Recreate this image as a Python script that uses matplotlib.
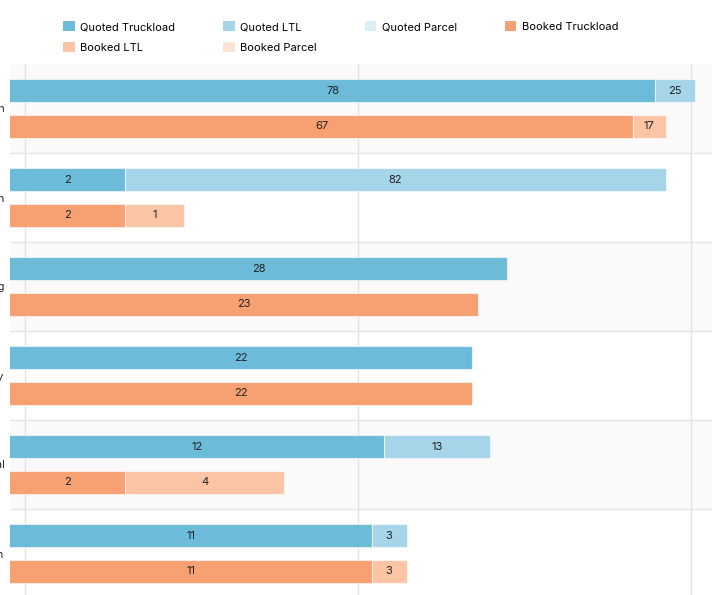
import matplotlib
matplotlib.use("Agg")
import matplotlib.pyplot as plt
from matplotlib.patches import Patch
import numpy as np

plt.rcParams['font.family'] = ['Inter', 'DejaVu Sans']

categories = ["Boston", "Houston", "Beijing", "Albany", "Montreal", "Vernon"]
quoted_truckload = [78, 2, 28, 22, 12, 11]
quoted_ltl = [25, 82, 0, 0, 13, 3]
quoted_parcel = [0, 0, 0, 0, 0, 0]
booked_truckload = [67, 2, 23, 22, 2, 11]
booked_ltl = [17, 1, 0, 0, 4, 3]
booked_parcel = [0, 0, 0, 0, 0, 0]

colors = {
    "Quoted Truckload": "#6bbbd9",
    "Quoted LTL": "#a6d5e9",
    "Quoted Parcel": "#dceef6",
    "Booked Truckload": "#f7a072",
    "Booked LTL": "#fbc4a5",
    "Booked Parcel": "#fde3d4",
}

W, H = 728, 595
fig = plt.figure(figsize=(W / 100, H / 100), dpi=100)
ax_left, ax_right, ax_top, ax_bot = 10, 712, 64, 598
ax = fig.add_axes([ax_left / W, (H - ax_bot) / H, (ax_right - ax_left) / W, (ax_bot - ax_top) / H])

xmin, xmax = 0.9016, 115.7
ax.set_xscale('log')
ax.set_xlim(xmin, xmax)
n = len(categories)
ax.set_ylim(n - 0.5, -0.5)

# bands
for i in range(n):
    if i % 2 == 0:
        ax.axhspan(i - 0.5, i + 0.5, color="#fafafa", zorder=0, lw=0)
for i in range(n - 1):
    ax.axhline(i + 0.5, color="#e4e4e4", lw=1, zorder=1)

ax.set_xticks([1, 10, 100])
ax.xaxis.set_minor_locator(matplotlib.ticker.NullLocator())
ax.grid(axis='x', which='major', color="#e2e2e2", lw=1, zorder=1)
ax.set_axisbelow(True)
ax.tick_params(axis='x', length=0, labelbottom=False)
ax.tick_params(axis='y', length=0, pad=4, labelsize=8, labelcolor="#222222")
ax.set_yticks(range(n))
ax.set_yticklabels(categories)
for s in ax.spines.values():
    s.set_visible(False)

y = np.arange(n)
off = 0.2
h = 0.265
base = 1e-3

def stack(ypos, series_list, names):
    left = np.full(n, base)
    for vals, name in zip(series_list, names):
        vals = np.array(vals, dtype=float)
        right = left + vals
        mask = vals > 0
        ax.barh(ypos[mask], vals[mask], left=left[mask], height=h,
                color=colors[name], edgecolor=(1, 1, 1, 0.6), lw=0.8, zorder=2)
        for j in np.where(mask)[0]:
            l = max(left[j], xmin)
            r = min(right[j], xmax)
            xc = np.sqrt(l * r)
            ax.text(xc, ypos[j], f"{int(vals[j])}", ha='center', va='center',
                    fontsize=8, color="#222222", zorder=3)
        left = right

stack(y - off, [quoted_truckload, quoted_ltl, quoted_parcel],
      ["Quoted Truckload", "Quoted LTL", "Quoted Parcel"])
stack(y + off, [booked_truckload, booked_ltl, booked_parcel],
      ["Booked Truckload", "Booked LTL", "Booked Parcel"])

order = ["Quoted Truckload", "Booked LTL", "Quoted LTL", "Booked Parcel", "Quoted Parcel", "Booked Truckload"]
handles = [Patch(facecolor=colors[k], edgecolor='none', label=k) for k in order]
fig.legend(handles=handles, ncol=4, loc='upper left', bbox_to_anchor=(59 / W, 1 - 17 / H),
           frameon=False, fontsize=8, handlelength=1.0, handleheight=1.0,
           handletextpad=0.5, columnspacing=4.35, labelspacing=0.9, borderaxespad=0)

fig.savefig("out.png", dpi=100)
